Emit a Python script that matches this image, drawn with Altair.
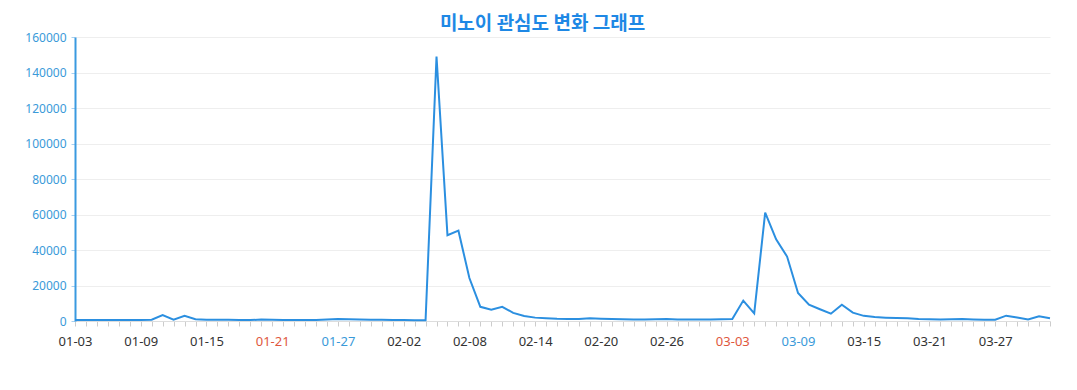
import altair as alt
import pandas as pd

# Daily dates (2024-01-03 .. 2024-04-01) shown as MM-DD categories
dates = [d.strftime("%m-%d") for d in pd.date_range("2024-01-03", "2024-04-01")]

values = [
    500, 500, 500, 600, 500, 500, 600, 700, 3300, 800,
    2900, 1000, 700, 700, 700, 600, 500, 800, 700, 600,
    500, 500, 500, 900, 1100, 1000, 900, 700, 700, 500,
    500, 400, 400, 149000, 48300, 50900, 24200, 8000, 6300, 8000,
    4600, 2800, 1900, 1500, 1200, 1100, 1100, 1600, 1300, 1100,
    1000, 900, 900, 1000, 1100, 900, 800, 800, 900, 1000,
    1100, 11500, 4300, 61000, 46000, 36300, 15800, 9200, 6600, 4100,
    9200, 4700, 2900, 2200, 1900, 1700, 1500, 1100, 1000, 900,
    1000, 1100, 900, 700, 700, 3000, 2000, 800, 2600, 1600,
]

label_dates = ["01-03", "01-09", "01-15", "01-21", "01-27", "02-02", "02-08",
               "02-14", "02-20", "02-26", "03-03", "03-09", "03-15", "03-21", "03-27"]
sunday_labels = ["01-21", "03-03"]
saturday_labels = ["01-27", "03-09"]
y_ticks = [0, 20000, 40000, 60000, 80000, 100000, 120000, 140000, 160000]

df = pd.DataFrame({"date": dates, "value": values})


def js_list(items):
    return "[" + ",".join(f"'{s}'" for s in items) + "]"


label_expr = f"indexof({js_list(label_dates)}, datum.value) >= 0 ? datum.value : ''"
color_expr = (
    f"indexof({js_list(sunday_labels)}, datum.value) >= 0 ? '#e0573d' : "
    f"(indexof({js_list(saturday_labels)}, datum.value) >= 0 ? '#3a9ad9' : '#333333')"
)

chart = alt.Chart(df).mark_line(color="#2b8fe0", strokeWidth=2).encode(
    x=alt.X(
        "date:O",
        sort=dates,
        scale=alt.Scale(type="point", padding=0),
        axis=alt.Axis(
            title=None,
            labelAngle=0,
            labelExpr=label_expr,
            labelColor=alt.ExprRef(color_expr),
            labelOverlap=False,
            labelFontSize=13,
            labelFont="Noto Sans",
            labelPadding=9,
            tickColor="#cccccc",
            tickSize=5,
            domainColor="#dddddd",
            grid=False,
        ),
    ),
    y=alt.Y(
        "value:Q",
        scale=alt.Scale(domain=[0, 160000]),
        axis=alt.Axis(
            title=None,
            values=y_ticks,
            format="d",
            labelColor="#3a9ad9",
            labelFontSize=12,
            labelFont="Noto Sans",
            labelPadding=5,
            domainColor="#3a9ae0",
            domainWidth=2,
            tickColor="#a8d0f0",
            tickSize=4,
            gridColor="#eeeeee",
        ),
    ),
).properties(
    width=975,
    height=284,
    title=alt.TitleParams(
        text="미노이 관심도 변화 그래프",
        anchor="middle",
        dx=-20,
        dy=9,
        fontSize=19,
        fontWeight="bold",
        font="Noto Sans CJK KR",
        color="#1e88e5",
        offset=6,
    ),
    padding={"left": 67, "top": 29, "right": 15, "bottom": 45},
    autosize="none",
).configure_view(stroke=None)

chart.save("out.html", embed_options={"renderer": "svg", "actions": False})
